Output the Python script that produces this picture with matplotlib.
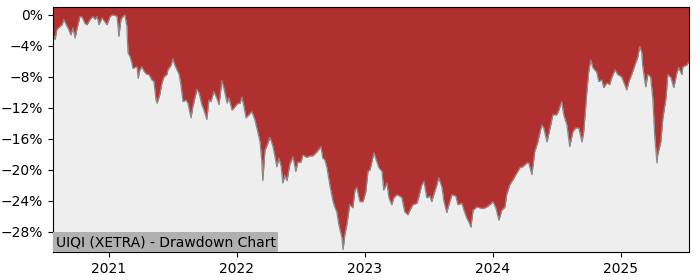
import pandas as pd
import matplotlib
matplotlib.use("Agg")
import matplotlib.pyplot as plt
import matplotlib.dates as mdates
from matplotlib.ticker import MultipleLocator, FuncFormatter

title = "UIQI (XETRA) - Drawdown Chart"
start = "2020-07-25"

# days after start, and drawdown in percent
days = [0, 6, 11, 20, 26, 31, 40, 43, 51, 57, 63, 68, 77, 83, 91, 97, 106, 114, 120, 126,
        131, 140, 148, 154, 163, 171, 183, 188, 194, 200, 205, 211, 214, 220, 225, 228, 240, 243, 248, 254,
        260, 268, 274, 282, 288, 294, 297, 305, 311, 317, 325, 328, 337, 342, 348, 354, 360, 365, 371, 380,
        385, 394, 399, 411, 417, 425, 431, 439, 445, 451, 459, 468, 474, 482, 488, 497, 502, 511, 519, 525,
        534, 539, 545, 551, 559, 568, 576, 585, 591, 596, 599, 605, 614, 619, 628, 639, 645, 651, 656, 662,
        668, 676, 685, 693, 699, 708, 713, 725, 733, 742, 753, 765, 770, 776, 782, 790, 799, 805, 810, 816,
        825, 828, 833, 839, 847, 856, 862, 867, 876, 885, 893, 899, 905, 910, 916, 925, 930, 939, 944, 953,
        959, 967, 973, 982, 990, 996, 1004, 1013, 1019, 1027, 1039, 1044, 1053, 1059, 1067, 1076, 1081, 1087, 1096, 1101,
        1110, 1116, 1124, 1130, 1139, 1150, 1156, 1167, 1173, 1181, 1187, 1193, 1199, 1210, 1218, 1227, 1238, 1247, 1256, 1264,
        1273, 1281, 1290, 1295, 1304, 1313, 1324, 1333, 1341, 1353, 1358, 1367, 1375, 1384, 1395, 1401, 1410, 1418, 1427, 1438,
        1444, 1452, 1458, 1467, 1475, 1484, 1492, 1501, 1510, 1515, 1524, 1529, 1535, 1541, 1552, 1558, 1567, 1572, 1581, 1589,
        1595, 1604, 1612, 1623, 1632, 1638, 1644, 1652, 1661, 1669, 1675, 1681, 1683, 1692, 1698, 1706, 1712, 1718, 1724, 1726,
        1735, 1741, 1750, 1755, 1764, 1772, 1781, 1786, 1795, 1798, 1809, 1815]

drawdown = [-2.5, -3.2, -1.9, -1.5, -1.3, -0.6, -1.5, -1.7, -2.6, -1.7, -3.0, -1.9, -0.2, -0.3, -1.1, -1.3, -0.6, -0.2, -0.6, -0.2,
            -1.3, -0.4, -0.9, -1.3, -0.2, 0.0, -0.2, -2.8, -0.6, -0.2, 0.0, -1.5, -4.9, -5.4, -6.2, -6.9, -6.7, -8.2, -7.1, -6.7,
            -7.3, -7.7, -7.7, -8.4, -8.6, -11.0, -11.4, -10.3, -8.8, -8.0, -7.7, -7.1, -6.5, -5.7, -6.5, -7.1, -7.7, -9.0, -11.2, -11.0,
            -11.4, -13.3, -11.9, -9.6, -10.1, -11.6, -12.3, -13.5, -11.0, -11.2, -9.9, -10.8, -11.6, -8.5, -9.5, -11.4, -10.7, -12.3, -11.9, -11.5,
            -11.4, -10.6, -11.8, -13.3, -12.9, -12.5, -13.5, -15.2, -16.4, -18.9, -21.4, -17.5, -16.5, -15.8, -17.0, -19.6, -18.5, -19.5, -21.7, -20.7,
            -21.4, -19.3, -18.3, -20.2, -19.0, -19.0, -18.1, -18.4, -18.2, -18.2, -17.7, -17.0, -18.5, -18.7, -19.7, -21.9, -24.0, -24.9, -25.4, -27.1,
            -28.8, -30.3, -28.4, -27.0, -24.5, -24.9, -22.6, -22.3, -24.1, -24.1, -22.8, -20.2, -20.0, -19.0, -17.8, -19.0, -19.7, -20.2, -22.6, -21.7,
            -23.6, -24.5, -23.6, -23.2, -23.4, -23.6, -25.4, -25.8, -25.2, -24.5, -24.3, -23.5, -21.9, -21.5, -23.6, -23.4, -24.1, -23.2, -21.9, -21.0,
            -22.2, -24.1, -25.5, -24.5, -23.2, -23.4, -24.5, -24.3, -25.2, -26.2, -26.7, -27.4, -25.2, -24.8, -24.9, -25.0, -24.8, -24.5, -24.1, -24.9,
            -26.5, -25.2, -24.8, -23.2, -21.9, -21.3, -20.4, -19.7, -19.6, -19.1, -19.1, -20.6, -17.7, -16.4, -14.2, -14.6, -16.4, -14.8, -12.9, -12.9,
            -12.3, -11.2, -12.9, -14.2, -17.0, -15.1, -14.6, -14.6, -16.4, -15.1, -9.9, -7.4, -5.8, -6.8, -7.4, -8.6, -8.4, -9.4, -8.8, -9.0,
            -8.1, -7.1, -7.7, -8.0, -9.0, -9.7, -8.6, -7.7, -6.5, -5.5, -4.1, -4.9, -6.5, -9.3, -7.7, -8.0, -10.7, -15.9, -19.1, -18.1,
            -16.4, -13.3, -10.7, -7.7, -8.1, -9.4, -7.5, -6.8, -7.7, -6.7, -6.5, -6.1]

dates = pd.Timestamp(start) + pd.to_timedelta(days, unit="D")
top = 1.0

fig = plt.figure(figsize=(7, 2.8), dpi=100)
ax = fig.add_axes([0.0757, 0.1, 0.9083, 0.875])
ax.set_facecolor("#eeeeee")

ax.fill_between(dates, drawdown, top, color="#b03030", lw=0)
ax.plot(dates, drawdown, color="#8a8a8a", lw=0.9)

ax.set_xlim(dates[0], dates[-1])
ax.set_ylim(-30.6, top)
ax.yaxis.set_major_locator(MultipleLocator(4))
ax.yaxis.set_major_formatter(FuncFormatter(lambda v, p: f"{v:.0f}%".replace("-", "\u2212")))
ax.xaxis.set_major_locator(mdates.YearLocator())
ax.xaxis.set_major_formatter(mdates.DateFormatter("%Y"))
ax.tick_params(labelsize=10)

ax.text(0.004, 0.012, title, transform=ax.transAxes, fontsize=10, ha="left", va="bottom",
        bbox=dict(facecolor="#b0b0b0", edgecolor="none", pad=2))

fig.savefig("out.png", dpi=100)
